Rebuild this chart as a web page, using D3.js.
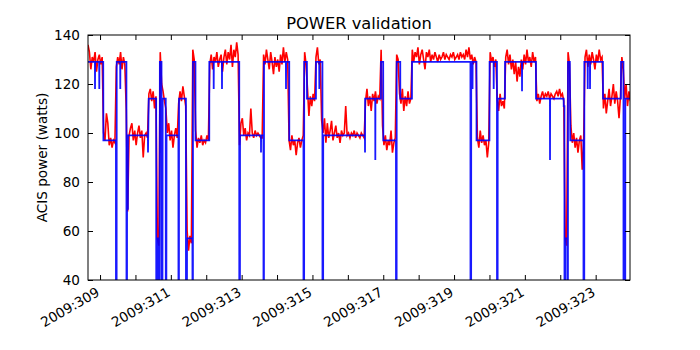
<!DOCTYPE html>
<html>
<head>
<meta charset="utf-8">
<script src="https://cdn.jsdelivr.net/npm/d3@7"></script>
<style>
  body { margin: 0; background: #fff; }
  text { font-family: "DejaVu Sans", sans-serif; }
</style>
</head>
<body>
<svg id="chart"></svg>
<script>
// telemetry: one sample every 0.04 day starting at redStart (day of year 2009)
var redStart = 308.66, redStep = 0.04;
var redPower = [
  136,133,126,131,129,133,125,130,132,128,131,
  100,97,108,104,95,98,94,97,96,
  127,131,128,133,126,131,128,
  110,68,
  99,102,104,97,101,95,100,103,98,101,90,99,100,98,
  116,118,113,117,110,115,
  57,54,
  133,
  120,117,113,110,
  100,104,97,101,94,99,102,98,
  112,117,113,119,115,111,
  60,52,58,55,
  134,130,
  101,94,98,96,99,95,97,96,99,97,
  128,132,126,131,129,133,127,130,132,125,131,134,128,133,130,136,127,134,131,137,132,
  95,104,106,99,102,97,100,99,110,100,98,101,99,100,99,98,
  98,132,
  128,134,130,126,133,129,124,131,127,130,125,132,128,135,129,133,130,
  97,93,99,95,97,91,96,98,94,97,99,
  133,128,
  118,107,115,111,116,113,
  131,135,128,130,
  105,100,106,96,104,98,101,105,97,100,103,98,100,96,101,99,100,111,99,100,98,100,99,101,98,100,99,98,100,99,98,
  113,118,111,115,109,116,113,117,112,115,114,
  134,
  103,95,99,93,97,95,101,92,96,98,
  132,130,
  116,112,118,109,115,111,117,112,114,
  134,129,133,131,135,128,132,134,130,126,133,131,134,129,132,130,133,131,129,132,
  130,131,133,130,132,131,130,132,131,133,130,131,132,130,133,131,132,130,134,131,135,130,
  132,128,131,129,
  98,94,101,96,99,95,97,90,96,
  133,129,131,127,130,
  114,109,116,111,113,110,
  131,134,128,132,126,130,124,129,121,127,123,130,126,132,128,134,129,131,127,133,129,131,
  113,116,112,115,117,114,116,115,117,114,116,115,114,116,117,115,118,115,116,113,
  57,54,
  133,
  128,103,96,100,94,98,92,97,99,85,96,
  131,134,127,132,128,133,130,126,132,129,134,130,131,
  110,116,108,113,118,111,115,120,112,117,113,106,115,
  131,
  126,114,120,111,117,113
];

// model prediction (day of year, watts)
var modelTimes = [
  308.660,308.855,308.858,308.861,308.976,308.979,308.982,309.090,309.095,309.449,
  309.451,309.468,309.471,309.569,309.572,309.575,309.745,309.748,309.760,309.763,
  309.787,309.790,310.352,310.355,310.375,310.586,310.589,310.600,310.603,310.640,
  310.643,310.680,310.690,310.736,310.745,310.760,310.770,310.856,310.858,310.870,
  310.878,311.214,311.216,311.228,311.231,311.426,311.428,311.454,311.457,311.610,
  311.612,311.623,311.626,311.695,311.697,312.085,312.087,312.208,312.211,312.214,
  312.442,312.445,312.448,312.932,312.934,312.951,312.954,313.545,313.547,313.550,
  313.616,313.618,313.629,313.632,314.250,314.253,314.256,314.344,314.346,314.746,
  314.748,314.764,314.767,314.844,314.846,315.099,315.101,315.191,315.194,315.197,
  315.282,315.284,315.301,315.304,316.483,316.485,316.488,316.773,316.776,316.779,
  316.935,316.937,316.998,317.002,317.359,317.361,317.377,317.380,317.480,317.482,
  317.811,317.813,319.463,319.465,319.482,319.485,319.519,319.522,319.525,319.633,
  319.635,320.000,320.004,320.117,320.120,320.123,320.212,320.214,320.230,320.233,
  320.438,320.440,320.917,320.920,320.923,321.313,321.315,321.708,321.711,321.714,
  322.096,322.098,322.118,322.120,322.140,322.143,322.203,322.205,322.216,322.219,
  322.270,322.284,322.655,322.657,322.677,322.680,322.773,322.776,322.779,322.838,
  322.841,322.844,323.206,323.208,323.714,323.716,323.785,323.787,323.835,323.838,
  323.970
];
var modelPower = [
  129,129,118,129,129,118,129,129,97,97,
  0,0,129,129,118,129,129,0,0,69,
  69,99,99,92,114,114,0,0,57,57,
  0,0,129,129,0,0,114,114,0,0,
  99,99,0,0,114,114,0,0,57,57,
  0,0,129,129,97,97,129,129,118,129,
  129,118,129,129,0,0,99,99,92,99,
  99,0,0,129,129,118,129,129,97,97,
  0,0,129,129,114,114,129,129,118,129,
  129,0,0,99,99,92,114,114,89,114,
  114,129,129,97,97,0,0,129,129,114,
  114,129,129,0,0,129,129,118,129,129,
  97,97,129,129,118,129,129,0,0,114,
  114,129,129,117,129,129,114,114,89,114,
  114,111,111,0,0,57,57,0,0,129,
  129,97,97,0,0,129,129,118,129,129,
  118,129,129,114,114,129,129,0,0,114,
  114
];

var yTicks = [40, 60, 80, 100, 120, 140];
var dayTicks = [309,310,311,312,313,314,315,316,317,318,319,320,321,322,323];
var labelDays = [309,311,313,315,317,319,321,323];

var margin = { top: 35, right: 70, bottom: 70, left: 88 },
    width = 700 - margin.left - margin.right,
    height = 350 - margin.top - margin.bottom;

var svg = d3.select("#chart")
    .attr("width", 700)
    .attr("height", 350);

var g = svg.append("g")
    .attr("transform", "translate(" + margin.left + "," + margin.top + ")");

var x = d3.scaleLinear()
    .domain([308.66, 323.97])
    .range([0, width]);

var y = d3.scaleLinear()
    .domain([40, 140])
    .range([height, 0]);

g.append("clipPath").attr("id", "plotclip")
  .append("rect")
    .attr("width", width)
    .attr("height", height);

var plot = g.append("g").attr("clip-path", "url(#plotclip)");

var redLine = d3.line()
    .x(function (d, i) { return x(redStart + i * redStep); })
    .y(function (d) { return y(d); });

plot.append("path")
    .datum(redPower)
    .attr("fill", "none")
    .attr("stroke", "#ff0000")
    .attr("stroke-width", 1.6)
    .attr("d", redLine);

var modelLine = d3.line()
    .x(function (d, i) { return x(modelTimes[i]); })
    .y(function (d) { return y(d); });

plot.append("path")
    .datum(modelPower)
    .attr("fill", "none")
    .attr("stroke", "#0000ff")
    .attr("stroke-opacity", 0.9)
    .attr("stroke-width", 1.8)
    .attr("d", modelLine);

function fmtDay(d) {
    return labelDays.indexOf(d) >= 0 ? "2009:" + d : "";
}

// bottom axis, ticks pointing in
var xAxis = g.append("g")
    .attr("transform", "translate(0," + height + ")")
    .call(d3.axisBottom(x).tickValues(dayTicks).tickSize(-5).tickFormat(fmtDay));
xAxis.selectAll("text")
    .attr("y", 0)
    .attr("dy", 0)
    .attr("transform", "translate(0,15) rotate(-30)")
    .style("text-anchor", "end")
    .style("font-size", "13.6px")
    .attr("fill", "#000");

g.append("g")
    .call(d3.axisTop(x).tickValues(dayTicks).tickSize(-5).tickFormat(""));

var yAxis = g.append("g")
    .call(d3.axisLeft(y).tickValues(yTicks).tickSize(-5).tickPadding(8));
yAxis.selectAll("text")
    .style("font-size", "13.6px")
    .attr("fill", "#000");

g.append("g")
    .attr("transform", "translate(" + width + ",0)")
    .call(d3.axisRight(y).tickValues(yTicks).tickSize(-5).tickFormat(""));

g.selectAll(".domain").remove();
g.selectAll(".tick line").attr("stroke", "#000");

g.append("rect")
    .attr("width", width)
    .attr("height", height)
    .attr("fill", "none")
    .attr("stroke", "#000")
    .attr("stroke-width", 1);

svg.append("text")
    .attr("x", margin.left + width / 2)
    .attr("y", 29)
    .attr("text-anchor", "middle")
    .style("font-size", "16.3px")
    .text("POWER validation");

svg.append("text")
    .attr("transform", "translate(47," + (margin.top + height / 2) + ") rotate(-90)")
    .attr("text-anchor", "middle")
    .style("font-size", "13.6px")
    .text("ACIS power (watts)");
</script>
</body>
</html>
